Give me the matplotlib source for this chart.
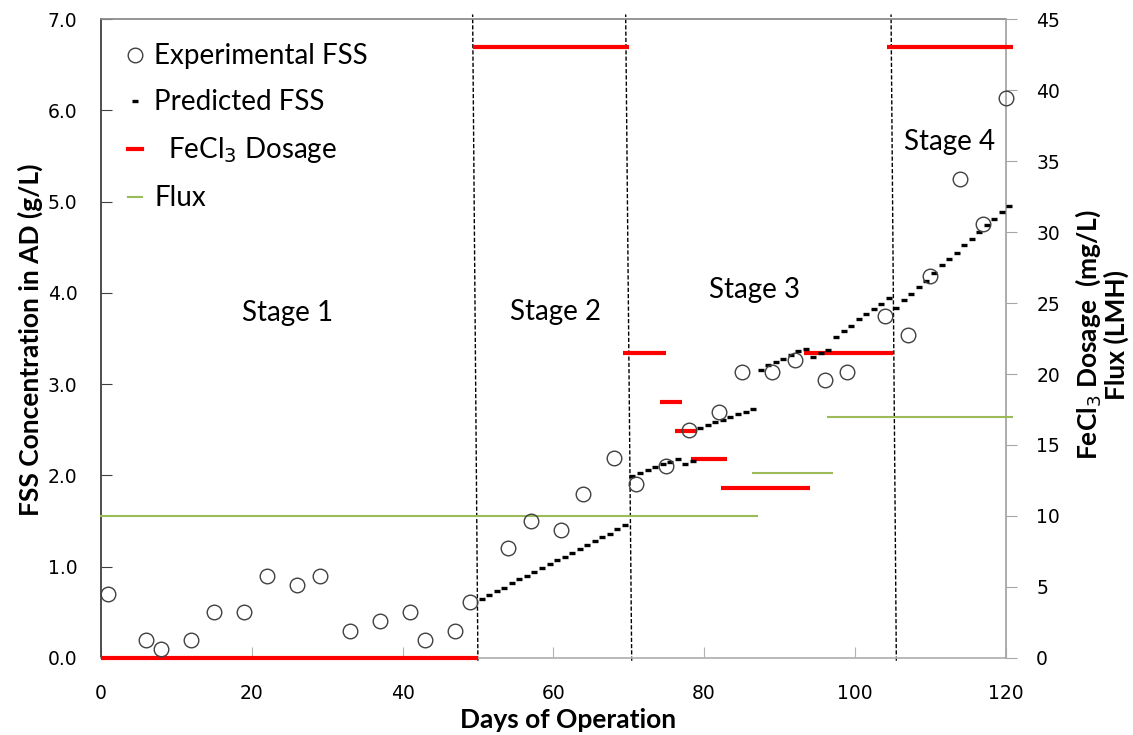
import numpy as np
import matplotlib
matplotlib.use("Agg")
import matplotlib.pyplot as plt
from matplotlib.lines import Line2D

# measured FSS in the digester (g/L)
exp_days = [1, 6, 8, 12, 15, 19, 22, 26, 29, 33, 37, 41, 43, 47, 49,
            54, 57, 61, 64, 68, 71, 75, 78, 82, 85, 89, 92, 96, 99,
            104, 107, 110, 114, 117, 120]
exp_fss = [0.70, 0.20, 0.10, 0.20, 0.50, 0.50, 0.90, 0.80, 0.90, 0.30, 0.40, 0.50, 0.20, 0.30, 0.61,
           1.20, 1.50, 1.40, 1.80, 2.19, 1.91, 2.10, 2.50, 2.70, 3.13, 3.13, 3.26, 3.05, 3.13,
           3.75, 3.54, 4.19, 5.25, 4.75, 6.14]

# model prediction, one value per day from day 50.5
pred_days = np.arange(50.5, 121.0, 1.0)
pred_fss = [0.65, 0.69, 0.73, 0.77, 0.82, 0.86, 0.90, 0.94, 0.99, 1.03,
            1.07, 1.11, 1.15, 1.19, 1.24, 1.28, 1.32, 1.36, 1.41, 1.46,
            1.99, 2.03, 2.06, 2.09, 2.12, 2.15, 2.18, 2.13, 2.16,
            2.52, 2.55, 2.58, 2.61, 2.64, 2.67, 2.70, 2.73,
            3.16, 3.21, 3.24, 3.28, 3.32, 3.36, 3.38, 3.30, 3.34, 3.37,
            3.52, 3.58, 3.64, 3.71, 3.77, 3.82, 3.88, 3.94,
            3.83, 3.92, 3.99, 4.06, 4.13, 4.22, 4.30, 4.37, 4.44, 4.52,
            4.59, 4.67, 4.74, 4.81, 4.89, 4.95]

# FeCl3 dosage periods (mg/L)
dose_start = [0, 49.3, 69.2, 74.2, 76.2, 78.2, 82.2, 93.3, 104.2]
dose_end = [50, 70.1, 75.0, 77.1, 79.0, 83.1, 94.0, 105.1, 121.0]
dose_value = [0, 43, 21.5, 18, 16, 14, 12, 21.5, 43]

# membrane flux periods (LMH)
flux_start = [0, 86.5, 96.5]
flux_end = [87, 97, 120.8]
flux_value = [10, 13, 17]

# stage boundaries (top / bottom ends of the marker lines)
bound_top = [49.3, 69.6, 104.8]
bound_bottom = [50.0, 70.4, 105.5]

stage_names = ["Stage 1", "Stage 2", "Stage 3", "Stage 4"]
stage_x = [24.8, 60.3, 86.7, 112.6]
stage_y = [3.78, 3.79, 4.03, 5.65]

RED = "#FF0000"
GREEN = "#9BBB59"
TXT = "Lato"
TICKF = "DejaVu Sans"

fig = plt.figure(figsize=(11.33, 7.35), dpi=100)
ax = fig.add_axes([0.0891, 0.1048, 0.7985, 0.8693])
ax2 = ax.twinx()

ax.set_xlim(0, 120)
ax.set_ylim(0, 7)
ax2.set_ylim(0, 45)

# stage boundary lines
for xt, xb in zip(bound_top, bound_bottom):
    ax.plot([xb, xt], [-0.03, 7.05], color="black", lw=1.0,
            ls=(0, (3, 1.5)), clip_on=False, zorder=2)

# dosage and flux on the right axis
for s, e, v in zip(dose_start, dose_end, dose_value):
    ax2.plot([s, e], [v, v], color=RED, lw=3.0, solid_capstyle="butt",
             clip_on=False, zorder=3)
for s, e, v in zip(flux_start, flux_end, flux_value):
    ax2.plot([s, e], [v, v], color=GREEN, lw=1.5, clip_on=False, zorder=3)

# FSS series on the left axis (drawn on ax2 coordinates so they sit on top)
scale = 45.0 / 7.0
ax2.plot(pred_days, np.array(pred_fss) * scale, ls="none", marker="_",
         ms=4.0, mew=2.4, color="black", clip_on=False, zorder=4)
ax2.plot(exp_days, np.array(exp_fss) * scale, ls="none", marker="o",
         ms=10.5, mfc="none", mec="#404040", mew=1.0, clip_on=False, zorder=5)

for name, x, y in zip(stage_names, stage_x, stage_y):
    ax.text(x, y, name, ha="center", va="center", fontsize=20, family=TXT)

# axes styling
ax.set_xticks([0, 20, 40, 60, 80, 100, 120])
ax.set_yticks(np.arange(0, 7.01, 1.0))
ax.set_yticklabels(["%.1f" % v for v in np.arange(0, 7.01, 1.0)])
ax2.set_yticks(np.arange(0, 46, 5))

ax.tick_params(axis="x", direction="in", length=8, color="#b3b3b3", pad=19,
               labelsize=13.5)
ax.tick_params(axis="y", direction="in", length=8, color="#404040", pad=17,
               labelsize=13.5)
ax2.tick_params(axis="y", direction="out", length=8, color="#a6a6a6", pad=14,
                labelsize=13.5)
for lab in ax.get_xticklabels() + ax.get_yticklabels() + ax2.get_yticklabels():
    lab.set_family(TICKF)

ax.spines["left"].set_color("#404040")
ax.spines["top"].set_color("#8c8c8c")
ax.spines["bottom"].set_color("#b3b3b3")
ax.spines["right"].set_visible(False)
ax2.spines["right"].set_color("#a6a6a6")
for k in ["left", "top", "bottom"]:
    ax2.spines[k].set_visible(False)
for sp in ax.spines.values():
    sp.set_linewidth(1.3)
ax2.spines["right"].set_linewidth(1.3)

fig.text(568 / 1133, 1 - 720 / 735, "Days of Operation", ha="center", va="center",
         fontsize=19, fontweight="bold", family=TXT)
fig.text(30 / 1133, 1 - 340 / 735, "FSS Concentration in AD (g/L)", ha="center",
         va="center", rotation=90, fontsize=19, fontweight="bold", family=TXT)
fig.text(1101 / 1133, 1 - 335 / 735, "FeCl$_3$ Dosage  (mg/L)\nFlux (LMH)",
         ha="center", va="center", rotation=90, fontsize=19, fontweight="bold",
         family=TXT, linespacing=1.0)

handles = [
    Line2D([], [], ls="none", marker="o", ms=10.5, mfc="none", mec="#404040", mew=1.0),
    Line2D([], [], ls="none", marker="_", ms=4.0, mew=2.4, color="black"),
    Line2D([], [], color=RED, lw=3.0),
    Line2D([], [], color=GREEN, lw=1.5),
]
labels = ["Experimental FSS", "Predicted FSS", "  FeCl$_3$ Dosage", "Flux"]
ax2.legend(handles, labels, loc="upper left", bbox_to_anchor=(0.030, 0.962),
           frameon=False, borderpad=0, borderaxespad=0, handlelength=0.5,
           handletextpad=0.45, labelspacing=0.72, prop={"family": TXT, "size": 20})

fig.savefig("out.png", dpi=100)
